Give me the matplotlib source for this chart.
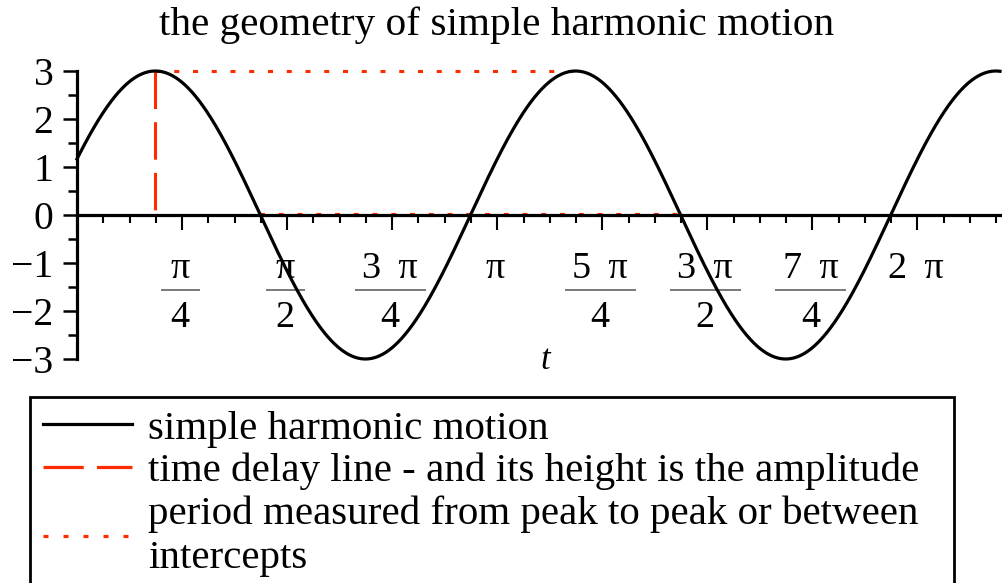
import numpy as np
import matplotlib
matplotlib.use('Agg')
import matplotlib.pyplot as plt
from matplotlib.lines import Line2D
from matplotlib.ticker import MultipleLocator

plt.rcParams['font.family'] = ['Liberation Serif', 'DejaVu Serif']
plt.rcParams['lines.scale_dashes'] = False

# y = A sin(w t + phi)
amplitude = 3.0
omega = 2.0
phase = 0.4
t_max = 6.9

# x tick labels at multiples of pi/4 (numerator over denominator)
tick_num = ['π', 'π', '3 π', 'π', '5 π', '3 π', '7 π', '2 π']
tick_den = ['4', '2', '4', None, '4', '2', '4', None]
y_ticks = [-3, -2, -1, 0, 1, 2, 3]

legend_labels = ['simple harmonic motion',
                 'time delay line - and its height is the amplitude',
                 'period measured from peak to peak or between\nintercepts']

RED = '#ff2a00'

period = 2 * np.pi / omega
t_peak = (np.pi / 2 - phase) / omega
t_zero = (np.pi - phase) / omega

W, H = 1003, 583
fig = plt.figure(figsize=(W / 100, H / 100), dpi=100)
ax = fig.add_axes([77 / W, 1 - 359 / H, 923 / W, 288 / H])
ax.set_xlim(0, t_max)
ax.set_ylim(-3, 3)

t = np.linspace(0, t_max, 1000)
ax.plot(t, amplitude * np.sin(omega * t + phase), color='black', lw=2.3,
        zorder=3, clip_on=False)

# time delay: vertical dashed line up to the first peak
ax.plot([t_peak, t_peak], [amplitude, 0], color=RED, lw=2.2,
        dashes=(27, 9.5), zorder=2.8, clip_on=False)
# period: peak to peak, and intercept to intercept
ax.plot([t_peak, t_peak + period], [amplitude, amplitude], color=RED, lw=2.2,
        dashes=(3.6, 9.9), zorder=2.2, clip_on=False)
ax.plot([t_zero, t_zero + period], [0, 0], color=RED, lw=3.0,
        dashes=(3.6, 9.9), zorder=2.2, clip_on=False)

for side in ['top', 'right']:
    ax.spines[side].set_visible(False)
ax.spines['bottom'].set_position(('data', 0))
ax.spines['bottom'].set_linewidth(2.3)
ax.spines['left'].set_linewidth(2.3)
ax.spines['bottom'].set_zorder(2.5)

ax.xaxis.set_major_locator(MultipleLocator(np.pi / 4))
ax.xaxis.set_minor_locator(MultipleLocator(np.pi / 16))
ax.tick_params(axis='x', which='major', length=10.5, width=1.5,
               labelbottom=False)
ax.tick_params(axis='x', which='minor', length=5.8, width=1.5)

ax.set_yticks(y_ticks)
ax.set_yticklabels([str(v).replace('-', '\u2212') for v in y_ticks])
ax.yaxis.set_minor_locator(MultipleLocator(0.5))
ax.tick_params(axis='y', which='major', length=10, width=1.8,
               labelsize=28.5, pad=7)
ax.tick_params(axis='y', which='minor', length=6.5, width=1.8)

# fraction style tick labels under the t axis
px_per_t = 923 / t_max
for k, (num, den) in enumerate(zip(tick_num, tick_den)):
    x = (k + 1) * np.pi / 4 - 2 / px_per_t
    ax.text(x, -1.12, num.replace(' ', '\u2009 '), ha='center', va='center',
            fontsize=27.5)
    if den is not None:
        ax.text(x, -2.14, den, ha='center', va='center', fontsize=27.5)
        bar_px = 39 if num == 'π' else 71
        half = bar_px / 2 / px_per_t
        ax.plot([x - half, x + half], [-1.56, -1.56], color='#555555',
                lw=1.1, solid_capstyle='butt')

ax.text(0.507, -0.005, 't', transform=ax.transAxes, ha='center', va='center',
        fontsize=25, style='italic')

fig.text(497 / W, 1 - 25 / H, 'the geometry of simple harmonic motion',
         ha='center', va='center', fontsize=29.7)

handles = [
    Line2D([], [], color='black', lw=2.3),
    Line2D([], [], color=RED, lw=2.3, dashes=(29, 9.5)),
    Line2D([], [], color=RED, lw=2.3, dashes=(3.6, 10.8)),
]
leg = fig.legend(handles, legend_labels, loc='upper left',
                 bbox_to_anchor=(30 / W, 0, (954 - 30) / W, 1 - 397 / H),
                 mode='expand', fontsize=29.5, handlelength=2.17,
                 handletextpad=0.39, borderpad=0.32, borderaxespad=0,
                 labelspacing=0.12, fancybox=False, framealpha=1,
                 edgecolor='black')
leg.get_frame().set_linewidth(2)
for txt in leg.get_texts():
    txt.set_linespacing(1.25)

fig.savefig('out.png', dpi=100)
